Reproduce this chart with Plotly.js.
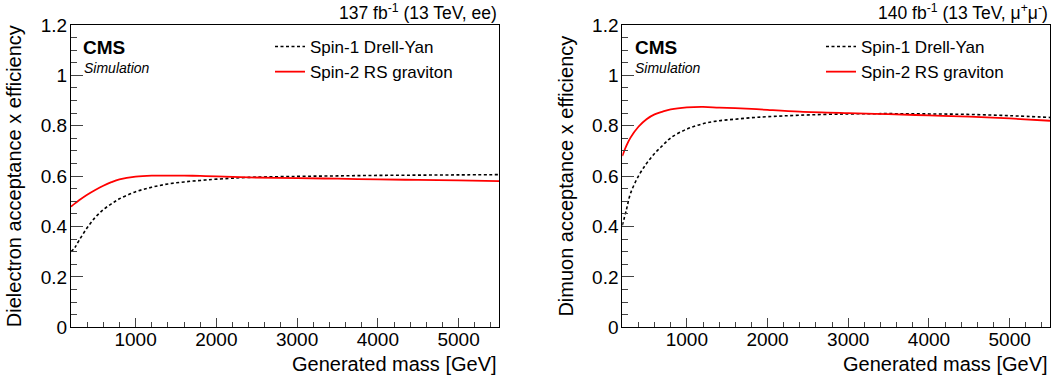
<!DOCTYPE html>
<html>
<head>
<meta charset="utf-8">
<script src="https://cdn.plot.ly/plotly-3.0.1.min.js"></script>
<style>html,body{margin:0;padding:0;background:#fff;}#plot{width:1060px;height:378px;}</style>
</head>
<body>
<div id="plot"></div>
<script>
// Generated mass points [GeV]
var mass = [200, 250, 300, 400, 500, 600, 700, 800, 1000, 1200, 1400, 1600, 1800, 2000, 2400, 3000, 3500, 4000, 4500, 5000, 5500];
// Dielectron channel
var dyEE = [0.300, 0.318, 0.345, 0.395, 0.436, 0.467, 0.490, 0.510, 0.538, 0.556, 0.569, 0.577, 0.583, 0.588, 0.595, 0.599, 0.601, 0.603, 0.604, 0.605, 0.606];
var rsEE = [0.479, 0.492, 0.504, 0.526, 0.545, 0.562, 0.576, 0.587, 0.598, 0.602, 0.602, 0.602, 0.601, 0.599, 0.595, 0.592, 0.590, 0.587, 0.585, 0.583, 0.580];
// Dimuon channel
var dyMM = [0.405, 0.465, 0.530, 0.600, 0.650, 0.690, 0.722, 0.752, 0.787, 0.808, 0.820, 0.826, 0.832, 0.836, 0.842, 0.847, 0.848, 0.847, 0.845, 0.840, 0.833];
var rsMM = [0.680, 0.720, 0.752, 0.796, 0.826, 0.845, 0.856, 0.865, 0.873, 0.875, 0.872, 0.870, 0.867, 0.863, 0.856, 0.850, 0.846, 0.841, 0.836, 0.829, 0.820];

var seriesNames = ['Spin-1 Drell-Yan', 'Spin-2 RS graviton'];
var xTitle = 'Generated mass [GeV]';
var yTitles = ['Dielectron acceptance x efficiency', 'Dimuon acceptance x efficiency'];
var lumiTexts = ['137 fb<sup>-1</sup> (13 TeV, ee)', '140 fb<sup>-1</sup> (13 TeV, \u03bc<sup>+</sup>\u03bc<sup>-</sup>)'];

var FONT = 'Liberation Sans, Arial, Helvetica, sans-serif';
var W = 1060, H = 378;
function px(x){ return x / W; }
function py(y){ return 1 - y / H; }

var dyLine = {color: '#000', width: 1.6, dash: '3px,2.5px', shape: 'spline', smoothing: 1};
var rsLine = {color: '#ff0000', width: 1.8, shape: 'spline', smoothing: 1};

var traces = [
  {x: mass, y: dyEE, type: 'scatter', mode: 'lines', name: seriesNames[0], line: dyLine, xaxis: 'x', yaxis: 'y', legend: 'legend'},
  {x: mass, y: rsEE, type: 'scatter', mode: 'lines', name: seriesNames[1], line: rsLine, xaxis: 'x', yaxis: 'y', legend: 'legend'},
  {x: mass, y: dyMM, type: 'scatter', mode: 'lines', name: seriesNames[0], line: dyLine, xaxis: 'x2', yaxis: 'y2', legend: 'legend2'},
  {x: mass, y: rsMM, type: 'scatter', mode: 'lines', name: seriesNames[1], line: rsLine, xaxis: 'x2', yaxis: 'y2', legend: 'legend2'}
];

function xAxis(domain, anchor){
  return {
    domain: domain, anchor: anchor, range: [200, 5500], tick0: 0, dtick: 1000,
    ticks: 'inside', ticklen: 9, tickwidth: 1, tickcolor: '#444',
    minor: {dtick: 200, ticks: 'inside', ticklen: 5, tickwidth: 1, tickcolor: '#444', showgrid: false},
    showline: true, linecolor: '#000', linewidth: 1, mirror: true,
    showgrid: false, zeroline: false, automargin: false, ticklabelstandoff: -5,
    tickfont: {family: FONT, size: 19, color: '#000'}
  };
}
function yAxis(domain, anchor, title){
  return {
    domain: domain, anchor: anchor, range: [0, 1.2], tick0: 0, dtick: 0.2,
    ticks: 'inside', ticklen: 12, tickwidth: 1, tickcolor: '#444',
    minor: {dtick: 0.05, ticks: 'inside', ticklen: 6, tickwidth: 1, tickcolor: '#444', showgrid: false},
    showline: true, linecolor: '#000', linewidth: 1, mirror: true,
    showgrid: false, zeroline: false, automargin: false, ticklabelstandoff: -1,
    tickfont: {family: FONT, size: 19, color: '#000'},
    title: {text: title, font: {family: FONT, size: 20, color: '#000'}, standoff: 13}
  };
}

var yDom = [py(327.3), py(25)];
var layout = {
  width: W, height: H,
  margin: {l: 0, r: 0, t: 0, b: 0},
  paper_bgcolor: '#fff', plot_bgcolor: '#fff',
  showlegend: true,
  xaxis: xAxis([px(71), px(499)], 'y'),
  yaxis: yAxis(yDom, 'x', yTitles[0]),
  xaxis2: xAxis([px(622.3), px(1050)], 'y2'),
  yaxis2: yAxis(yDom, 'x2', yTitles[1]),
  legend: {x: px(270), y: py(29), xanchor: 'left', yanchor: 'top', bgcolor: 'rgba(0,0,0,0)', borderwidth: 0,
           font: {family: FONT, size: 17, color: '#000'}},
  legend2: {x: px(821), y: py(29), xanchor: 'left', yanchor: 'top', bgcolor: 'rgba(0,0,0,0)', borderwidth: 0,
           font: {family: FONT, size: 17, color: '#000'}},
  annotations: [
    {xref: 'paper', yref: 'paper', x: px(499), y: py(12), xanchor: 'right', yanchor: 'middle', showarrow: false,
     text: lumiTexts[0], font: {family: FONT, size: 17.5, color: '#000'}},
    {xref: 'paper', yref: 'paper', x: px(1050), y: py(12), xanchor: 'right', yanchor: 'middle', showarrow: false,
     text: lumiTexts[1], font: {family: FONT, size: 17.5, color: '#000'}},
    {xref: 'paper', yref: 'paper', x: px(81), y: py(47.7), xanchor: 'left', yanchor: 'middle', showarrow: false,
     text: '<b>CMS</b>', font: {family: FONT, size: 19, color: '#000'}},
    {xref: 'paper', yref: 'paper', x: px(632.5), y: py(47.7), xanchor: 'left', yanchor: 'middle', showarrow: false,
     text: '<b>CMS</b>', font: {family: FONT, size: 19, color: '#000'}},
    {xref: 'paper', yref: 'paper', x: px(81.5), y: py(68.5), xanchor: 'left', yanchor: 'middle', showarrow: false,
     text: '<i>Simulation</i>', font: {family: FONT, size: 14, color: '#000'}},
    {xref: 'paper', yref: 'paper', x: px(633), y: py(68.5), xanchor: 'left', yanchor: 'middle', showarrow: false,
     text: '<i>Simulation</i>', font: {family: FONT, size: 14, color: '#000'}},
    {xref: 'paper', yref: 'paper', x: px(499), y: py(364), xanchor: 'right', yanchor: 'middle', showarrow: false,
     text: xTitle, font: {family: FONT, size: 20, color: '#000'}},
    {xref: 'paper', yref: 'paper', x: px(1050), y: py(364), xanchor: 'right', yanchor: 'middle', showarrow: false,
     text: xTitle, font: {family: FONT, size: 20, color: '#000'}}
  ]
};

Plotly.newPlot('plot', traces, layout, {staticPlot: true, displayModeBar: false});
</script>
</body>
</html>
